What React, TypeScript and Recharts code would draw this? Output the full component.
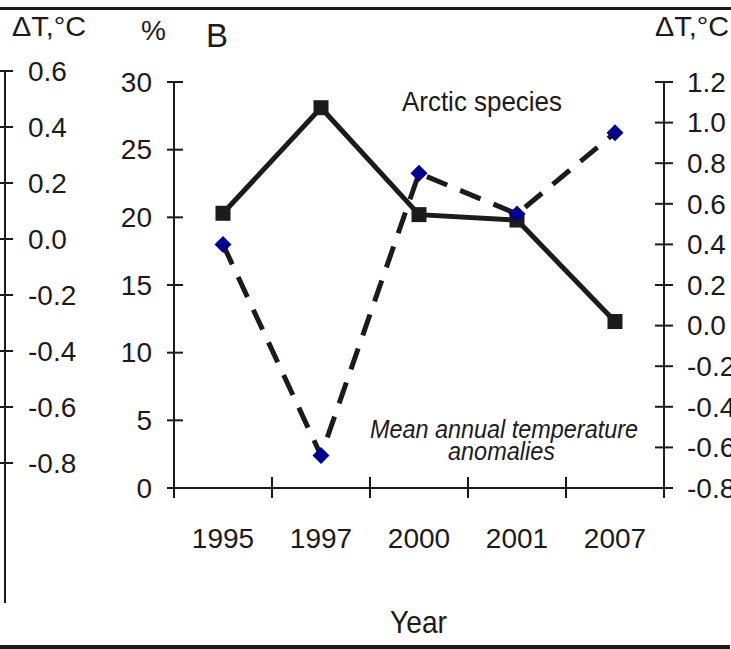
import React from 'react';
import { ComposedChart, LineChart, Line, XAxis, YAxis } from 'recharts';

const years = ['1995', '1997', '2000', '2001', '2007'];
const arcticSpecies = [20.3, 28.1, 20.2, 19.8, 12.3];
const tempAnomaly = [0.4, -0.64, 0.75, 0.55, 0.95];
const pctTicks = [0, 5, 10, 15, 20, 25, 30];
const rightTempTicks = [-0.8, -0.6, -0.4, -0.2, 0, 0.2, 0.4, 0.6, 0.8, 1.0, 1.2];
const outerTempTicks = [-0.8, -0.6, -0.4, -0.2, 0, 0.2, 0.4, 0.6];

const data = years.map((year, i) => ({ year, arctic: arcticSpecies[i], temp: tempAnomaly[i] }));

const INK = '#1c1a1b';
const FONT = '"Liberation Sans", Arial, sans-serif';

const XTick = (props: any) => {
  const { x, y, payload, index, visibleTicksCount } = props;
  const half = payload && typeof payload.offset === 'number' && payload.offset > 0 ? payload.offset : 49;
  return (
    <g>
      <line x1={x - half} x2={x - half} y1={y - 11} y2={y + 10} stroke={INK} strokeWidth={2} />
      {index === visibleTicksCount - 1 && (
        <line x1={x + half} x2={x + half} y1={y - 11} y2={y + 10} stroke={INK} strokeWidth={2} />
      )}
      <text x={x} y={y + 50} dy="0.35em" textAnchor="middle" fontSize={28} fontFamily={FONT} fill={INK}>
        {payload.value}
      </text>
    </g>
  );
};

const LeftTick = (props: any) => {
  const { x, y, payload } = props;
  return (
    <g>
      <line x1={x - 7} x2={x + 9} y1={y} y2={y} stroke={INK} strokeWidth={2} />
      <text x={x - 22} y={y} dy="0.35em" textAnchor="end" fontSize={28} fontFamily={FONT} fill={INK}>
        {payload.value}
      </text>
    </g>
  );
};

const RightTick = (props: any) => {
  const { x, y, payload } = props;
  return (
    <g>
      <line x1={x - 9} x2={x + 9} y1={y} y2={y} stroke={INK} strokeWidth={2} />
      <text x={x + 23} y={y} dy="0.35em" textAnchor="start" fontSize={28} fontFamily={FONT} fill={INK}>
        {Number(payload.value).toFixed(1)}
      </text>
    </g>
  );
};

const OuterTick = (props: any) => {
  const { x, y, payload } = props;
  return (
    <g>
      <line x1={x - 6} x2={x + 8} y1={y} y2={y} stroke={INK} strokeWidth={2} />
      <text x={x + 23} y={y} dy="0.35em" textAnchor="start" fontSize={28} fontFamily={FONT} fill={INK}>
        {Number(payload.value).toFixed(1)}
      </text>
    </g>
  );
};

const SquareDot = (props: any) => {
  const { cx, cy, index } = props;
  if (cx == null || cy == null) return <g key={`s${index}`} />;
  return <rect key={`s${index}`} x={cx - 7.5} y={cy - 7.5} width={15} height={15} fill={INK} />;
};

const DiamondDot = (props: any) => {
  const { cx, cy, index } = props;
  if (cx == null || cy == null) return <g key={`d${index}`} />;
  return (
    <polygon
      key={`d${index}`}
      points={`${cx},${cy - 8.5} ${cx + 8.5},${cy} ${cx},${cy + 8.5} ${cx - 8.5},${cy}`}
      fill="#00008b"
    />
  );
};

export default function App() {
  return (
    <div style={{ position: 'fixed', left: 0, top: 0, width: 731, height: 649, background: '#fff', overflow: 'hidden' }}>
      <div style={{ position: 'absolute', left: 0, top: 0 }}>
        <ComposedChart width={731} height={649} data={data} margin={{ top: 82, right: 7, bottom: 101, left: 114 }}>
          <XAxis
            dataKey="year"
            type="category"
            scale="band"
            height={60}
            tickSize={0}
            tickMargin={0}
            tickLine={false}
            axisLine={{ stroke: INK, strokeWidth: 2 }}
            tick={<XTick />}
            interval={0}
          />
          <YAxis
            yAxisId="pct"
            orientation="left"
            width={60}
            domain={[0, 30]}
            ticks={pctTicks}
            type="number"
            tickSize={0}
            tickMargin={0}
            tickLine={false}
            axisLine={{ stroke: INK, strokeWidth: 2 }}
            tick={<LeftTick />}
            interval={0}
          />
          <YAxis
            yAxisId="temp"
            orientation="right"
            width={60}
            domain={[-0.8, 1.2]}
            ticks={rightTempTicks}
            type="number"
            tickSize={0}
            tickMargin={0}
            tickLine={false}
            axisLine={{ stroke: INK, strokeWidth: 2 }}
            tick={<RightTick />}
            interval={0}
          />
          <Line
            yAxisId="pct"
            dataKey="arctic"
            stroke={INK}
            strokeWidth={5}
            dot={<SquareDot />}
            activeDot={false}
            isAnimationActive={false}
          />
          <Line
            yAxisId="temp"
            dataKey="temp"
            stroke={INK}
            strokeWidth={5}
            strokeDasharray="22 14"
            dot={<DiamondDot />}
            activeDot={false}
            isAnimationActive={false}
          />
        </ComposedChart>
      </div>
      <div style={{ position: 'absolute', left: 0, top: 0 }}>
        <LineChart width={80} height={649} data={data} margin={{ top: 71, right: 0, bottom: 46, left: 0 }}>
          <YAxis
            yAxisId="outer"
            orientation="right"
            width={75}
            domain={[-1.3, 0.6]}
            ticks={outerTempTicks}
            type="number"
            allowDataOverflow
            tickSize={0}
            tickMargin={0}
            tickLine={false}
            axisLine={{ stroke: INK, strokeWidth: 2 }}
            tick={<OuterTick />}
            interval={0}
          />
        </LineChart>
      </div>
      <svg width={731} height={649} style={{ position: 'absolute', left: 0, top: 0, pointerEvents: 'none' }}>
        <rect x={0} y={7} width={731} height={3} fill={INK} />
        <rect x={0} y={645} width={730} height={4} fill={INK} />
        <text x={12} y={36} fontSize={28} fontFamily={FONT} fill={INK} textLength={74} lengthAdjust="spacingAndGlyphs">ΔT,°C</text>
        <text x={141} y={40} fontSize={28} fontFamily={FONT} fill={INK}>%</text>
        <text x={206} y={47} fontSize={33} fontFamily={FONT} fill={INK}>B</text>
        <text x={655} y={36} fontSize={28} fontFamily={FONT} fill={INK} textLength={74} lengthAdjust="spacingAndGlyphs">ΔT,°C</text>
        <text x={402} y={111} fontSize={28} fontFamily={FONT} fill={INK} textLength={160} lengthAdjust="spacingAndGlyphs">Arctic species</text>
        <text x={370} y={438} fontSize={25} fontStyle="italic" fontFamily={FONT} fill={INK} textLength={268} lengthAdjust="spacingAndGlyphs">Mean annual temperature</text>
        <text x={448} y={460} fontSize={25} fontStyle="italic" fontFamily={FONT} fill={INK} textLength={107} lengthAdjust="spacingAndGlyphs">anomalies</text>
        <text x={390} y={633} fontSize={32} fontFamily={FONT} fill={INK} textLength={57} lengthAdjust="spacingAndGlyphs">Year</text>
      </svg>
    </div>
  );
}
